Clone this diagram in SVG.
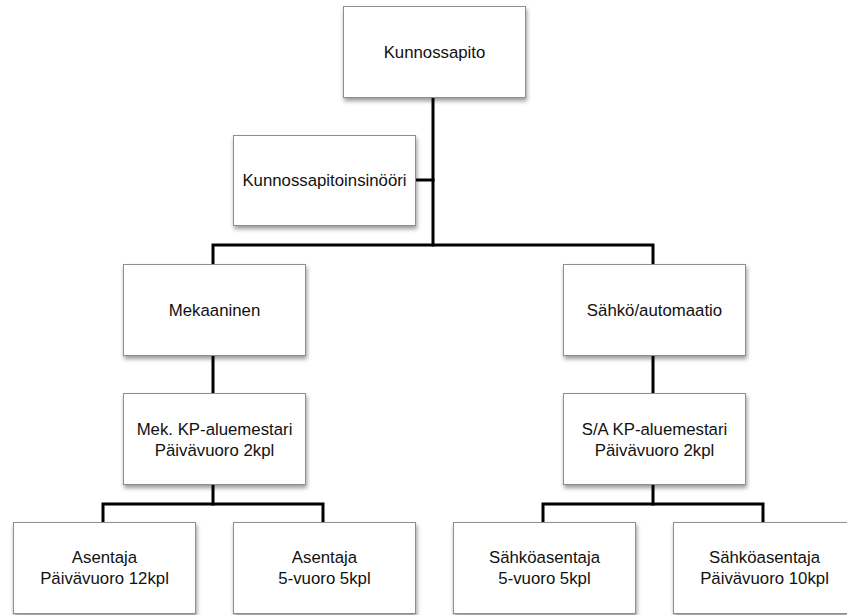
<svg xmlns="http://www.w3.org/2000/svg" width="847" height="615" viewBox="0 0 847 615">
  <defs>
    <filter id="shadow" x="-10%" y="-10%" width="125%" height="130%">
      <feDropShadow dx="1" dy="3" stdDeviation="2" flood-color="#000" flood-opacity="0.4"/>
    </filter>
  </defs>
  <style>
    .box { fill: #ffffff; stroke: #8e8e8e; stroke-width: 1; filter: url(#shadow); }
    .lbl { font-family: "Liberation Sans", Arial, sans-serif; font-size: 16.8px; fill: #111; text-anchor: middle; }
    .conn { fill: none; stroke: #000; stroke-width: 3; stroke-linecap: square; }
  </style>
  <rect width="847" height="615" fill="#ffffff"/>

  <!-- connectors -->
  <g id="connectors" class="conn">
    <path d="M433,97 V245"/>
    <path d="M415,180 H433"/>
    <path d="M213,264 V245 H653 V264"/>
    <path d="M213,355 V393"/>
    <path d="M653,355 V393"/>
    <path d="M213,484 V504"/>
    <path d="M103,522 V504 H323 V522"/>
    <path d="M653,484 V504"/>
    <path d="M543,522 V504 H763 V522"/>
  </g>

  <g id="kunnossapito">
    <rect class="box" x="343.5" y="6.5" width="182" height="91"/>
    <text class="lbl" x="434.5" y="57.5">Kunnossapito</text>
  </g>
  <g id="kunnossapitoinsinoori">
    <rect class="box" x="233.5" y="135.5" width="182" height="90"/>
    <text class="lbl" x="324.5" y="186">Kunnossapitoinsinööri</text>
  </g>
  <g id="mekaaninen">
    <rect class="box" x="123.5" y="264.5" width="182" height="91"/>
    <text class="lbl" x="214.5" y="315.5">Mekaaninen</text>
  </g>
  <g id="sahko-automaatio">
    <rect class="box" x="563.5" y="264.5" width="182" height="91"/>
    <text class="lbl" x="654.5" y="315.5">Sähkö/automaatio</text>
  </g>
  <g id="mek-kp-aluemestari">
    <rect class="box" x="123.5" y="393.5" width="182" height="91"/>
    <text class="lbl" x="214.5" y="434.5">Mek. KP-aluemestari</text>
    <text class="lbl" x="214.5" y="455.5">Päivävuoro 2kpl</text>
  </g>
  <g id="sa-kp-aluemestari">
    <rect class="box" x="563.5" y="393.5" width="182" height="91"/>
    <text class="lbl" x="654.5" y="434.5">S/A KP-aluemestari</text>
    <text class="lbl" x="654.5" y="455.5">Päivävuoro 2kpl</text>
  </g>
  <g id="asentaja-paiva">
    <rect class="box" x="13.5" y="522.5" width="182" height="91"/>
    <text class="lbl" x="104.5" y="563">Asentaja</text>
    <text class="lbl" x="104.5" y="584">Päivävuoro 12kpl</text>
  </g>
  <g id="asentaja-5vuoro">
    <rect class="box" x="233.5" y="522.5" width="182" height="91"/>
    <text class="lbl" x="324.5" y="563">Asentaja</text>
    <text class="lbl" x="324.5" y="584">5-vuoro 5kpl</text>
  </g>
  <g id="sahkoasentaja-5vuoro">
    <rect class="box" x="453.5" y="522.5" width="182" height="91"/>
    <text class="lbl" x="544.5" y="563">Sähköasentaja</text>
    <text class="lbl" x="544.5" y="584">5-vuoro 5kpl</text>
  </g>
  <g id="sahkoasentaja-paiva">
    <rect class="box" x="673.5" y="522.5" width="182" height="91"/>
    <text class="lbl" x="764.5" y="563">Sähköasentaja</text>
    <text class="lbl" x="764.5" y="584">Päivävuoro 10kpl</text>
  </g>
</svg>
